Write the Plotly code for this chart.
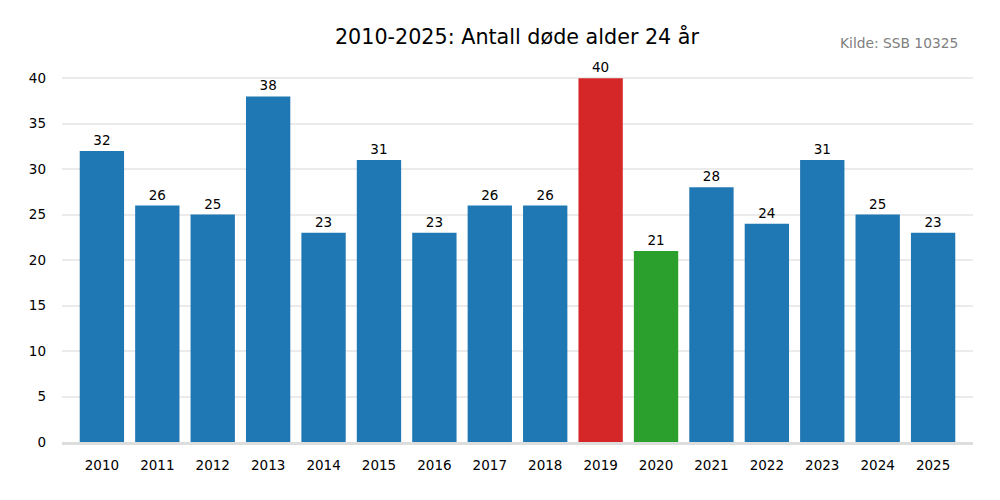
import plotly.graph_objects as go

years = [str(y) for y in range(2010, 2026)]
deaths = [32, 26, 25, 38, 23, 31, 23, 26, 26, 40, 21, 28, 24, 31, 25, 23]
highlight = {"2019": "#d62728", "2020": "#2ca02c"}
base_color = "#1f77b4"
colors = [highlight.get(y, base_color) for y in years]

fig = go.Figure(go.Bar(
    x=years, y=deaths, marker_color=colors, marker_line_width=0,
    text=[str(v) for v in deaths], textposition="outside",
    textfont=dict(size=13.5, color="black"), cliponaxis=False, width=0.8,
))

fig.update_layout(
    width=1000, height=500,
    font=dict(family="DejaVu Sans", size=13.5, color="black"),
    title=dict(text="2010-2025: Antall døde alder 24 år", x=(517 - 8) / 1000, xanchor="center",
               y=0.942, yanchor="middle", font=dict(size=20.7, color="black")),
    plot_bgcolor="white", paper_bgcolor="white",
    margin=dict(l=54, r=35, t=52, b=66),
    bargap=0.2, showlegend=False,
    xaxis=dict(type="category", range=[-0.72, 15.72], showgrid=False, ticks="",
               showline=True, linecolor="#dddddd", linewidth=3, tickfont=dict(size=13.5),
               ticklabelstandoff=9),
    yaxis=dict(range=[0, 42], tickvals=[0, 5, 10, 15, 20, 25, 30, 35, 40],
               showgrid=True, gridcolor="#ebebeb", gridwidth=1.5, zeroline=False,
               ticks="", ticklabelstandoff=15, tickfont=dict(size=13.5)),
    annotations=[dict(text="Kilde: SSB 10325", xref="paper", yref="paper",
                      x=0.9857, y=1.0445, xanchor="right", yanchor="middle",
                      showarrow=False, font=dict(size=13.8, color="gray"))],
)
fig.write_html("out.html")
